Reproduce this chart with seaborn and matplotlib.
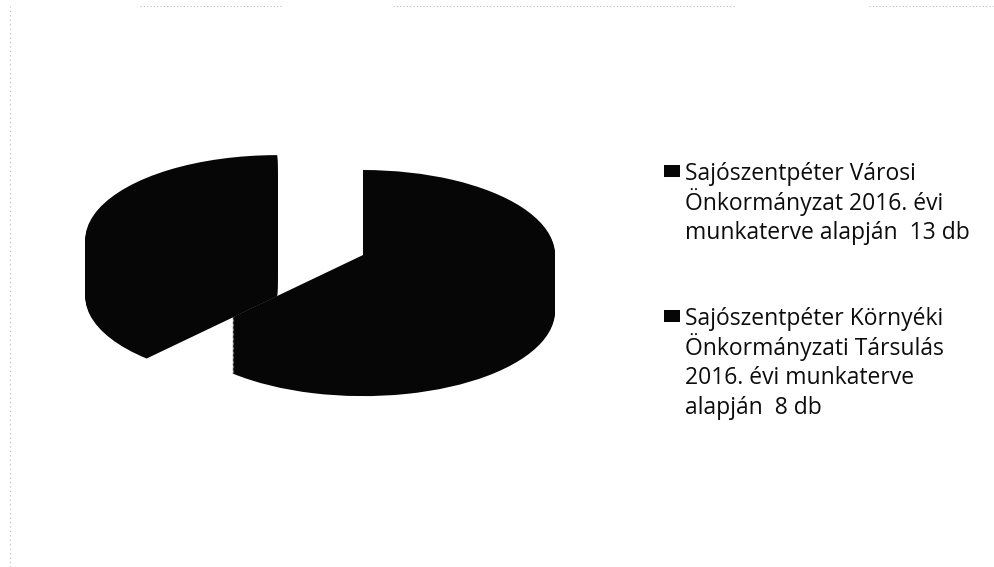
import numpy as np
import matplotlib.pyplot as plt
import seaborn as sns
from matplotlib.patches import Rectangle
from matplotlib.lines import Line2D

sns.set_theme(style='white')
plt.rcParams['font.family'] = ['Open Sans', 'DejaVu Sans']

# values
labels = ['Sajószentpéter Városi\nÖnkormányzat 2016. évi\nmunkaterve alapján  13 db',
          'Sajószentpéter Környéki\nÖnkormányzati Társulás\n2016. évi munkaterve\nalapján  8 db']
counts = [13, 8]
colors = ['#060606', '#060606']
explode = [0, 0.48]

W, H = 995, 567
fig = plt.figure(figsize=(W / 100, H / 100), dpi=100)
fig.patch.set_facecolor('white')

# axes placed so that 1 x-unit = 192 px and 1 y-unit = 85 px (flattened 3D look)
ax = fig.add_axes([0.0561, 0.2654, 0.5403, 0.4947])

# stack of pies to fake the extruded side of the 3D pie
depth = 0.66
for d in np.linspace(depth, 0, 45):
    wedges, _ = ax.pie(counts, explode=explode, colors=colors, startangle=90,
                       counterclock=False, center=(0, -d),
                       wedgeprops=dict(linewidth=0))
ax.set_aspect('auto')
ax.set_xlim(-1.6, 1.2)
ax.set_ylim(-1.9, 1.4)
ax.axis('off')

# legend drawn line by line (marker sits beside first line, like Excel)
text_x = 685
first_base = [180, 325]
step = 29.6
for i, lab in enumerate(labels):
    y0 = first_base[i]
    fig.patches.append(Rectangle((664 / W, 1 - (y0 - 3) / H), 16 / W, 12 / H,
                                 transform=fig.transFigure,
                                 color=wedges[i].get_facecolor(), lw=0))
    for j, line in enumerate(lab.split('\n')):
        fig.text(text_x / W, 1 - (y0 + j * step) / H, line, fontsize=16.5,
                 color='#0d0d0d', va='baseline', ha='left')

# faint dotted scan edges
for x0, x1 in [(140, 282), (393, 736), (869, 993)]:
    fig.lines.append(Line2D([x0 / W, x1 / W], [1 - 6 / H, 1 - 6 / H],
                            transform=fig.transFigure, color='#bbbbbb',
                            lw=0.8, ls=(0, (1, 2))))
fig.lines.append(Line2D([10 / W, 10 / W], [0, 1 - 6 / H],
                        transform=fig.transFigure, color='#bbbbbb',
                        lw=0.8, ls=(0, (1, 3))))

plt.savefig('out.png', dpi=100)
